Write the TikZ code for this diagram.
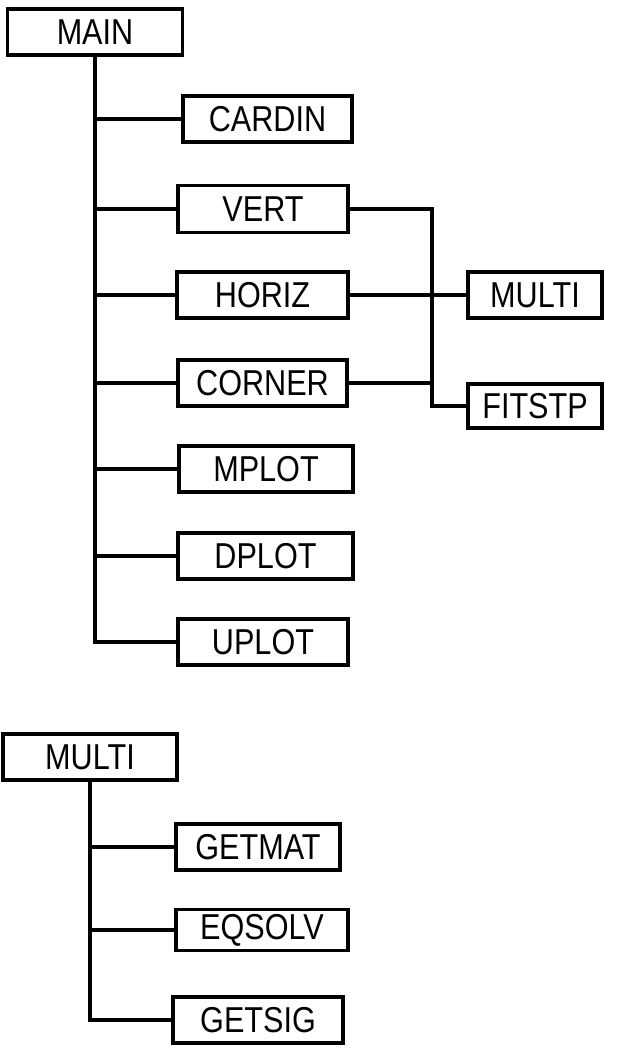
\documentclass[tikz,border=0pt]{standalone}
\usepackage{fontspec}
\setmainfont{Liberation Sans}[FakeStretch=0.85]
\begin{document}
\begin{tikzpicture}[x=1pt,y=-1pt,
  line width=3.2pt,
  modbox/.style={draw, rectangle, minimum height=46pt, inner sep=0pt,
    line width=3.2pt, font=\fontsize{36}{36}\selectfont},
  link/.style={line width=3.2pt}]
\useasboundingbox (0,0) rectangle (617,1051);

% call tree of MAIN
\node[modbox, minimum width=175pt] (main)   at (95,32)    {MAIN};
\node[modbox, minimum width=169pt] (cardin) at (267.5,119) {CARDIN};
\node[modbox, minimum width=170pt, minimum height=47pt] (vert) at (263,209) {VERT};
\node[modbox, minimum width=171pt] (horiz)  at (262.5,295) {HORIZ};
\node[modbox, minimum width=169pt] (corner) at (262.5,383) {CORNER};
\node[modbox, minimum width=134pt] (multi)  at (535,295)  {MULTI};
\node[modbox, minimum width=134pt, minimum height=44pt] (fitstp) at (535,406) {FITSTP};
\node[modbox, minimum width=174pt] (mplot)  at (266,469)  {MPLOT};
\node[modbox, minimum width=175pt] (dplot)  at (265.5,556) {DPLOT};
\node[modbox, minimum width=170pt] (uplot)  at (263,642)  {UPLOT};

\draw[link] (main.south) |- (uplot.west);
\foreach \n in {cardin,vert,horiz,corner,mplot,dplot}
  \draw[link] (main.south |- \n.west) -- (\n.west);

\coordinate (bus) at (432,0);
\draw[link] (vert.east) -| (bus |- fitstp.west) -- (fitstp.west);
\draw[link] (horiz.east) -- (multi.west);
\draw[link] (corner.east) -- (bus |- corner.east);

% call tree of MULTI
\node[modbox, minimum width=174pt] (multib) at (90,757)  {MULTI};
\node[modbox, minimum width=164pt] (getmat) at (258,847) {GETMAT};
\node[modbox, minimum width=172pt, minimum height=41pt] (eqsolv) at (262,930) {EQSOLV};
\node[modbox, minimum width=170pt] (getsig) at (258,1020) {GETSIG};

\draw[link] (multib.south) |- (getsig.west);
\foreach \n in {getmat,eqsolv}
  \draw[link] (multib.south |- \n.west) -- (\n.west);
\end{tikzpicture}
\end{document}
